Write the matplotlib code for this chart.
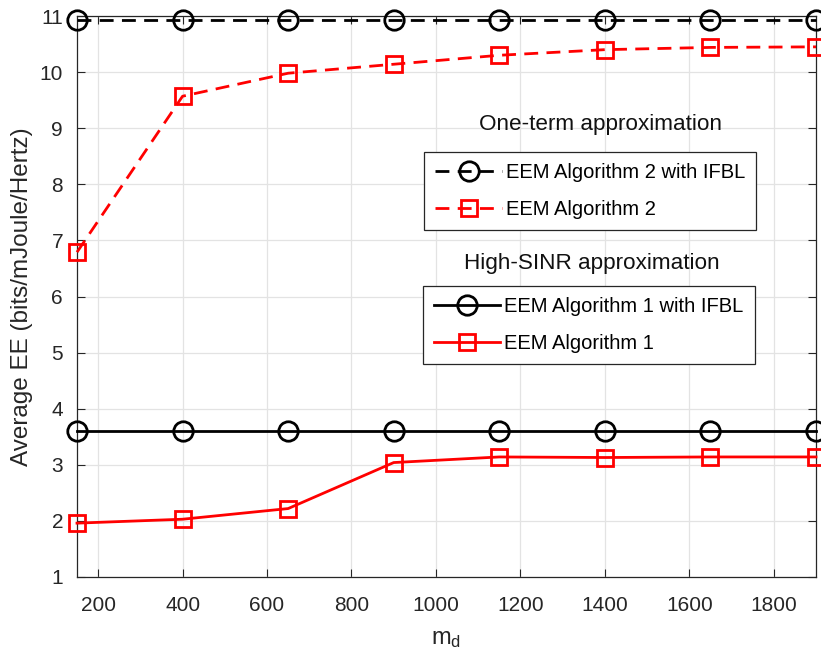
import matplotlib.pyplot as plt
import numpy as np

plt.rcParams['font.family'] = ['Liberation Sans', 'DejaVu Sans']
plt.rcParams['mathtext.fontset'] = 'custom'
plt.rcParams['mathtext.rm'] = 'Liberation Sans'
plt.rcParams['mathtext.it'] = 'Liberation Sans'

# data
md = [150, 400, 650, 900, 1150, 1400, 1650, 1900]
alg2_ifbl = [10.93] * 8
alg2 = [6.79, 9.57, 9.98, 10.14, 10.30, 10.40, 10.44, 10.45]
alg1_ifbl = [3.60] * 8
alg1 = [1.96, 2.03, 2.22, 3.04, 3.14, 3.13, 3.14, 3.14]

fig = plt.figure(figsize=(8.21, 6.55), dpi=100)
ax = fig.add_axes([77 / 821, 1 - 577 / 655, 739 / 821, 561 / 655])

dash = (0, (5, 3))
lw = 2.0
l1, = ax.plot(md, alg2_ifbl, color='black', linestyle=dash, lw=lw, marker='o',
              markersize=14, markerfacecolor='none', markeredgewidth=lw,
              label='EEM Algorithm 2 with IFBL', clip_on=False, zorder=4)
l2, = ax.plot(md, alg2, color='red', linestyle=dash, lw=lw, marker='s',
              markersize=11.5, markerfacecolor='none', markeredgewidth=lw,
              label='EEM Algorithm 2', clip_on=False, zorder=4)
l3, = ax.plot(md, alg1_ifbl, color='black', linestyle='-', lw=lw, marker='o',
              markersize=14, markerfacecolor='none', markeredgewidth=lw,
              label='EEM Algorithm 1 with IFBL', clip_on=False, zorder=4)
l4, = ax.plot(md, alg1, color='red', linestyle='-', lw=lw, marker='s',
              markersize=11.5, markerfacecolor='none', markeredgewidth=lw,
              label='EEM Algorithm 1', clip_on=False, zorder=4)

ax.set_xlim(150, 1900)
ax.set_ylim(1, 11)
ax.set_xticks(np.arange(200, 1801, 200))
ax.set_yticks(np.arange(1, 12, 1))
ax.grid(True, color='#e3e3e3', linewidth=0.9)
ax.set_axisbelow(True)
ax.tick_params(direction='in', length=6, colors='#262626', labelsize=15,
               top=True, right=True, width=0.8)
ax.tick_params(axis='x', pad=14)
ax.tick_params(axis='y', pad=10)
for s in ax.spines.values():
    s.set_color('#262626')
    s.set_linewidth(0.9)

ax.set_xlabel(r'm$_\mathrm{d}$', fontsize=17, color='#262626', labelpad=9)
ax.set_ylabel('Average EE (bits/mJoule/Hertz)', fontsize=17.5, color='#262626', labelpad=5)

leg_kw = dict(fontsize=14.5, fancybox=False, framealpha=1, edgecolor='#262626',
              handlelength=3.3, handletextpad=0.2, borderpad=0.55, labelspacing=0.9,
              borderaxespad=0, loc='upper left')
leg1 = ax.legend(handles=[l1, l2], bbox_to_anchor=(0.470, 0.758), **leg_kw)
leg1.get_frame().set_linewidth(0.9)
ax.add_artist(leg1)
leg2 = ax.legend(handles=[l3, l4], bbox_to_anchor=(0.468, 0.519), **leg_kw)
leg2.get_frame().set_linewidth(0.9)

ax.text(0.709, 0.807, 'One-term approximation', transform=ax.transAxes,
        ha='center', va='center', fontsize=16.2, color='#111111')
ax.text(0.697, 0.558, 'High-SINR approximation', transform=ax.transAxes,
        ha='center', va='center', fontsize=16.2, color='#111111')

fig.savefig('out.png', dpi=100)
